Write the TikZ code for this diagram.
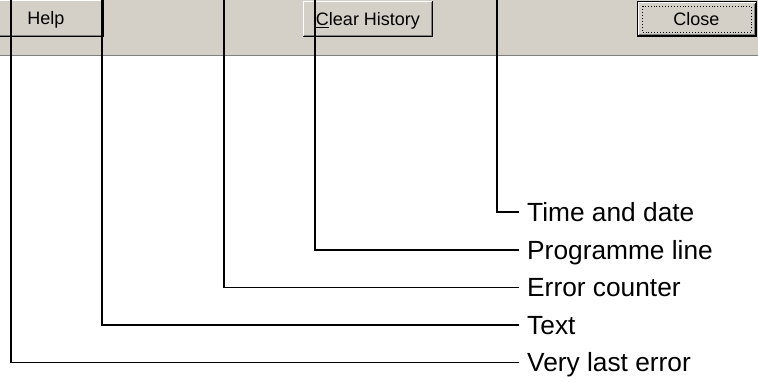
\documentclass[tikz,border=0pt]{standalone}
\usepackage{fontspec}
\setmainfont{Liberation Sans}
\usetikzlibrary{positioning}
\definecolor{winface}{RGB}{212,208,200}
\definecolor{winshadow}{RGB}{128,128,128}

\begin{document}
\begin{tikzpicture}[
    x=1pt, y=-1pt,
    btn/.style={rectangle, fill=winface, inner sep=0pt, text height=13pt, text depth=0pt,
                font=\fontsize{18}{20}\selectfont},
    lead/.style={line width=1.8pt, black},
    lbl/.style={anchor=west, inner sep=0pt, text height=18.8pt, text depth=0pt,
                font=\fontsize{26.3}{30}\selectfont}
  ]
    \useasboundingbox (0,0) rectangle (758,382);

    %--- Window strip ---
    \fill[winface] (0,0) rectangle (758,56);
    \draw[winshadow, line width=1.5pt] (0,55.5) -- (758,55.5);

    %--- Buttons ---
    \node[btn, minimum width=116pt, minimum height=37pt] (help)  at (46,18.5)    {Help};
    \node[btn, minimum width=130pt, minimum height=36pt] (clear) at (368,19)     {\underline{C}lear History};
    \node[btn, minimum width=119pt, minimum height=35pt, draw=black, line width=1pt]
                                                         (close) at (696.5,19.5) {Close};

    \foreach \b in {help,clear} {
      \draw[white, line width=1pt]
        ([shift={(0.5,-0.5)}]\b.south west) |- ([shift={(-0.5,0.5)}]\b.north east);
      \draw[black, line width=1pt]
        ([shift={(-0.5,0.5)}]\b.north east) |- ([shift={(0.5,-0.5)}]\b.south west);
      \draw[winshadow, line width=1pt]
        ([shift={(-1.5,1.5)}]\b.north east) |- ([shift={(1.5,-1.5)}]\b.south west);
    }
    % default button: extra frame and focus rectangle
    \draw[white, line width=1pt]
      ([shift={(1.5,-1.5)}]close.south west) |- ([shift={(-1.5,1.5)}]close.north east);
    \draw[black, line width=1pt]
      ([shift={(-1.5,1.5)}]close.north east) |- ([shift={(1.5,-1.5)}]close.south west);
    \draw[winshadow, line width=1pt]
      ([shift={(-2.5,2.5)}]close.north east) |- ([shift={(2.5,-2.5)}]close.south west);
    \draw[black, dotted, line width=0.9pt]
      ([shift={(6,5)}]close.north west) rectangle ([shift={(-5,-5)}]close.south east);

    %--- Labels ---
    \node[lbl] (tad) at (527,212)   {Time and date};
    \node[lbl] (prl) at (527,250)   {Programme line};
    \node[lbl] (erc) at (527,287.5) {Error counter};
    \node[lbl] (txt) at (527,325)   {Text};
    \node[lbl] (vle) at (527,362.5) {Very last error};

    %--- Leader lines ---
    \coordinate (ttad) at (497,0);
    \coordinate (tprl) at (315,0);
    \coordinate (terc) at (224,0);
    \coordinate (ttxt) at (102,0);
    \coordinate (tvle) at (11,0);

    \foreach \t in {tad,prl,erc,txt,vle}
      \draw[lead] (t\t) |- ([xshift=-8pt]\t.west);
\end{tikzpicture}
\end{document}
